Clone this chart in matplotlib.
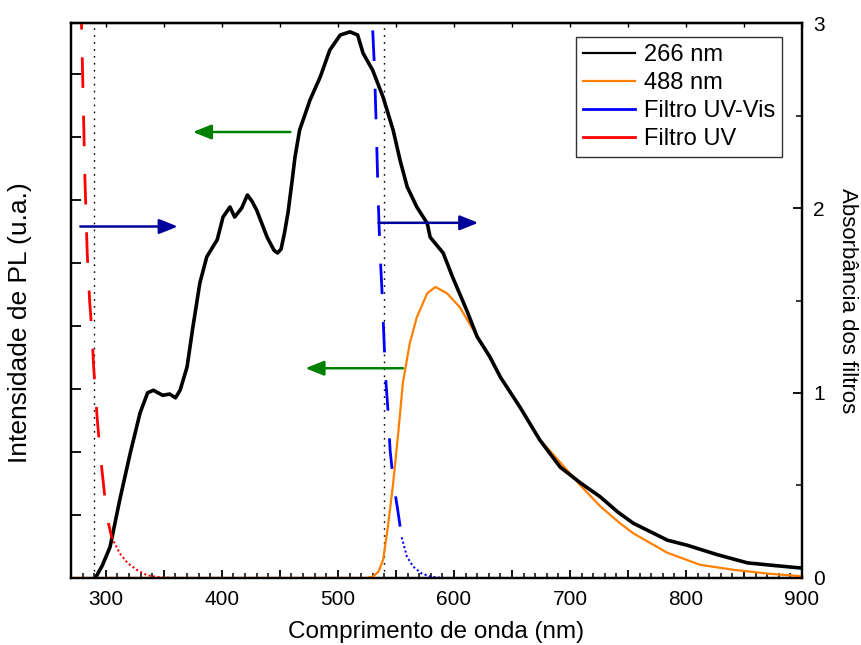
import matplotlib
matplotlib.use("Agg")
import matplotlib.pyplot as plt
from matplotlib.lines import Line2D
from matplotlib.ticker import MultipleLocator, FuncFormatter

plt.rcParams['font.family'] = ['Liberation Sans', 'DejaVu Sans']

# PL spectrum, excitation 266 nm (arb. units)
wl_266 = [291, 297, 303.6, 312, 321, 329.5, 336, 341, 349, 355, 360, 364, 370, 375, 381,
          387, 396, 401, 407, 411, 417, 422, 426, 430, 439, 445, 448, 451, 454, 457, 460.5,
          463, 467, 476, 484.7, 493, 502, 510.5, 517, 521.7, 530, 539, 547.6, 553.6, 559.7,
          568, 577, 579.5, 590.7, 599, 611, 620, 631, 640, 657, 674, 691.6, 709, 726, 741,
          754.5, 784, 801, 827, 853, 875, 898, 900]
pl_266 = [0.0, 0.2, 0.49, 1.24, 1.98, 2.62, 2.94, 2.98, 2.9, 2.92, 2.86, 2.98, 3.35, 3.98, 4.68,
          5.1, 5.37, 5.73, 5.89, 5.73, 5.87, 6.08, 5.98, 5.84, 5.41, 5.2, 5.16, 5.22, 5.48, 5.8, 6.3,
          6.68, 7.11, 7.59, 7.95, 8.38, 8.62, 8.67, 8.62, 8.33, 8.06, 7.63, 7.11, 6.63, 6.21,
          5.89, 5.63, 5.41, 5.16, 4.77, 4.25, 3.83, 3.51, 3.19, 2.71, 2.19, 1.76, 1.51, 1.29, 1.05,
          0.87, 0.6, 0.52, 0.37, 0.24, 0.2, 0.16, 0.16]

# PL spectrum, excitation 488 nm
wl_488 = [270, 525, 530, 535, 539, 543, 547.6, 552, 556, 562, 568, 577, 584, 594, 605, 616.6,
          628.6, 640, 657, 674, 697.6, 709, 726, 743, 754.5, 784, 812, 841, 870, 898, 900]
pl_488 = [0.0, 0.0, 0.02, 0.1, 0.29, 0.8, 1.5, 2.3, 3.1, 3.73, 4.14, 4.52, 4.62, 4.52, 4.3, 3.94,
          3.57, 3.19, 2.7, 2.2, 1.71, 1.47, 1.14, 0.87, 0.71, 0.4, 0.21, 0.13, 0.07, 0.03, 0.02]

# filter absorbance
wl_uvvis = [530, 531.5, 533, 534.5, 535.5, 536.5, 538, 539, 540.5, 541.5, 543, 545, 548, 551.5,
            555, 559.5, 565, 572, 580, 590, 900]
abs_uvvis = [2.96, 2.76, 2.45, 2.1, 1.9, 1.74, 1.55, 1.4, 1.17, 1.05, 0.92, 0.69, 0.51, 0.37,
             0.22, 0.115, 0.061, 0.025, 0.007, 0.0, 0.0]
wl_uv = [278, 279, 280.6, 282, 284, 286, 288, 289.5, 292.7, 296, 301, 305, 312, 319, 327, 335,
         344, 360, 900]
abs_uv = [3.3, 3.0, 2.55, 2.15, 1.75, 1.5, 1.33, 1.14, 0.85, 0.62, 0.33, 0.22, 0.133, 0.079,
          0.043, 0.016, 0.005, 0.0, 0.0]
split_uvvis = 14   # index where dashed turns dotted
split_uv = 11

cutoffs = [290, 540]

fig = plt.figure(figsize=(8.61, 6.45), dpi=100)
ax = fig.add_axes([0.0825, 0.1039, 0.849, 0.8604])
ax2 = ax.twinx()

ax.plot(wl_488, pl_488, color='#FF8000', lw=1.6, zorder=3)
ax.plot(wl_266, pl_266, color='black', lw=2.6, zorder=4)

ax2.plot(wl_uvvis[:split_uvvis + 1], abs_uvvis[:split_uvvis + 1], color='#0000FF', lw=2,
         dashes=(11, 10))
ax2.plot(wl_uvvis[split_uvvis:], abs_uvvis[split_uvvis:], color='#0000FF', lw=1.5,
         dashes=(1, 1.2))
ax2.plot(wl_uv[:split_uv + 1], abs_uv[:split_uv + 1], color='#FF0000', lw=2, dashes=(11, 10))
ax2.plot(wl_uv[split_uv:], abs_uv[split_uv:], color='#FF0000', lw=1.5, dashes=(1, 1.2))

for c in cutoffs:
    ax.axvline(c, color='black', lw=1, dashes=(1.2, 3.8))

arr = '-|>,head_length=0.7,head_width=0.28'
ax.annotate('', xy=(375, 7.08), xytext=(459, 7.08),
            arrowprops=dict(arrowstyle=arr, color='#008000', lw=1.8, mutation_scale=16,
                            shrinkA=0, shrinkB=0))
ax.annotate('', xy=(472, 3.33), xytext=(556, 3.33),
            arrowprops=dict(arrowstyle=arr, color='#008000', lw=1.8, mutation_scale=16,
                            shrinkA=0, shrinkB=0))
ax2.annotate('', xy=(362, 1.90), xytext=(278, 1.90),
             arrowprops=dict(arrowstyle=arr, color='#00009C', lw=1.8, mutation_scale=16,
                             shrinkA=0, shrinkB=0))
ax2.annotate('', xy=(621, 1.92), xytext=(535, 1.92),
             arrowprops=dict(arrowstyle=arr, color='#00009C', lw=1.8, mutation_scale=16,
                             shrinkA=0, shrinkB=0))

ax.set_xlim(270, 900)
ax.set_ylim(0, 8.81)
ax2.set_ylim(0, 3)

ax.xaxis.set_major_locator(MultipleLocator(50))
ax.xaxis.set_minor_locator(MultipleLocator(10))
ax.xaxis.set_major_formatter(FuncFormatter(lambda v, p: '%d' % v if v % 100 == 0 else ''))
ax.yaxis.set_major_locator(MultipleLocator(1))
ax.set_yticklabels([])
ax2.yaxis.set_major_locator(MultipleLocator(1))
ax2.yaxis.set_minor_locator(MultipleLocator(0.5))

ax.tick_params(axis='x', which='major', direction='in', length=6, width=1.3, labelsize=15, pad=9)
ax.tick_params(axis='x', which='minor', direction='in', length=3.5, width=1.1)
ax.tick_params(axis='y', which='major', direction='in', length=7, width=1.3)
ax2.tick_params(axis='y', which='major', direction='in', length=6.5, width=1.3, labelsize=15, pad=8)
ax2.tick_params(axis='y', which='minor', direction='in', length=4.5, width=1.1)

top = ax.secondary_xaxis('top')
top.xaxis.set_major_locator(MultipleLocator(50))
top.tick_params(direction='in', length=3, width=1, labelsize=0, labeltop=False)

for a in (ax, ax2):
    for s in a.spines.values():
        s.set_linewidth(1.6)
top.spines['top'].set_linewidth(1.6)

ax.set_xlabel('Comprimento de onda (nm)', fontsize=17.5, labelpad=8)
ax.set_ylabel('Intensidade de PL (u.a.)', fontsize=19)
ax.yaxis.set_label_coords(-0.053, 0.46)
ax2.set_ylabel('Absorbância dos filtros', fontsize=16, rotation=270, labelpad=24)

handles = [Line2D([], [], color='black', lw=1.6),
           Line2D([], [], color='#FF8000', lw=1.6),
           Line2D([], [], color='#0000FF', lw=2),
           Line2D([], [], color='#FF0000', lw=2)]
labels = ['266 nm', '488 nm', 'Filtro UV-Vis', 'Filtro UV']
leg = ax2.legend(handles, labels, loc='upper right', bbox_to_anchor=(0.9726, 0.975),
                 fontsize=17, frameon=True, fancybox=False, edgecolor='black',
                 handlelength=2.2, handletextpad=0.35, labelspacing=0.26, borderpad=0.3,
                 borderaxespad=0)
leg.get_frame().set_linewidth(1.0)

fig.savefig('out.png', dpi=100)
